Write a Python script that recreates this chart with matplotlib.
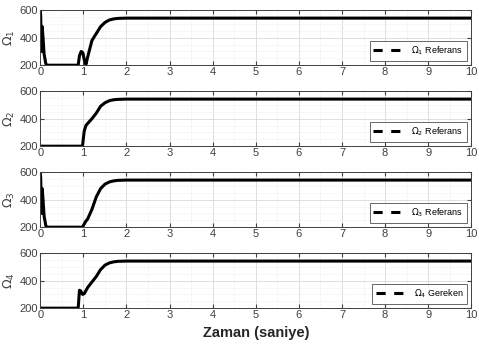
import numpy as np
import matplotlib.pyplot as plt
from matplotlib.lines import Line2D

plt.rcParams['font.family'] = ['Liberation Sans', 'DejaVu Sans']

# time samples (s) and rotor speeds
t1 = [0, 0.01, 0.03, 0.045, 0.06, 0.09, 0.13, 0.16, 0.88, 0.91, 0.95, 0.99, 1.02, 1.06,
      1.1, 1.2, 1.3, 1.4, 1.5, 1.6, 1.7, 1.8, 2.0, 10]
w1 = [600, 560, 300, 480, 420, 280, 210, 200, 200, 270, 300, 290, 240, 205,
      260, 380, 430, 480, 510, 528, 536, 540, 542, 542]

t2 = [0, 0.98, 1.02, 1.06, 1.1, 1.2, 1.3, 1.4, 1.5, 1.6, 1.7, 1.8, 2.0, 10]
w2 = [200, 200, 310, 350, 365, 400, 440, 490, 515, 530, 537, 540, 542, 542]

t3 = [0, 0.01, 0.03, 0.045, 0.06, 0.09, 0.13, 0.16, 0.98, 1.05, 1.1, 1.2, 1.3, 1.4,
      1.5, 1.6, 1.7, 1.8, 2.0, 10]
w3 = [600, 560, 300, 480, 420, 280, 210, 200, 200, 240, 260, 330, 420, 480,
      512, 528, 536, 540, 542, 542]

t4 = [0, 0.88, 0.91, 0.94, 0.98, 1.02, 1.1, 1.2, 1.3, 1.4, 1.5, 1.6, 1.7, 1.8, 2.0, 10]
w4 = [200, 200, 330, 325, 300, 305, 350, 390, 430, 480, 512, 528, 536, 540, 542, 542]

times = [t1, t2, t3, t4]
speeds = [w1, w2, w3, w4]
ylabels = [r'$\Omega_1$', r'$\Omega_2$', r'$\Omega_3$', r'$\Omega_4$']
legends = [r'$\Omega_1$ Referans', r'$\Omega_2$ Referans',
           r'$\Omega_3$ Referans', r'$\Omega_4$ Gereken']

fig, axes = plt.subplots(4, 1, figsize=(4.79, 3.49), dpi=100)
fig.subplots_adjust(left=0.084, right=0.984, top=0.971, bottom=0.117, hspace=0.47)

for ax, t, w, yl, lg in zip(axes, times, speeds, ylabels, legends):
    ax.plot(t, w, color='black', linewidth=2.2)
    ax.set_xlim(0, 10)
    ax.set_ylim(200, 600)
    ax.set_xticks(range(0, 11))
    ax.set_yticks([200, 400, 600])
    ax.set_xticks(np.arange(0, 10.01, 0.5), minor=True)
    ax.set_yticks(np.arange(200, 601, 50), minor=True)
    ax.grid(which='major', color='#d9d9d9', linewidth=0.6)
    ax.grid(which='minor', color='#e4e4e4', linewidth=0.5, linestyle=':')
    ax.tick_params(which='both', direction='in', labelsize=8, colors='#404040',
                   length=3, pad=1.5, top=True, right=True)
    ax.tick_params(which='minor', length=0)
    for s in ax.spines.values():
        s.set_color('#404040')
        s.set_linewidth(0.7)
    ax.set_ylabel(yl, fontsize=9, color='#404040', labelpad=2)
    # legend entry drawn as dashed reference line
    handle = Line2D([], [], color='black', linestyle='--', linewidth=2.2, dashes=(3.0, 2.8))
    leg = ax.legend([handle], [lg], loc='lower right', fontsize=6.5, frameon=True,
                    fancybox=False, edgecolor='#404040', borderpad=0.4,
                    handlelength=3.4, borderaxespad=0.5)
    leg.get_frame().set_linewidth(0.7)

axes[-1].set_xlabel('Zaman (saniye)', fontsize=10.5, fontweight='bold', color='#262626')

fig.savefig('out.png', dpi=100)
